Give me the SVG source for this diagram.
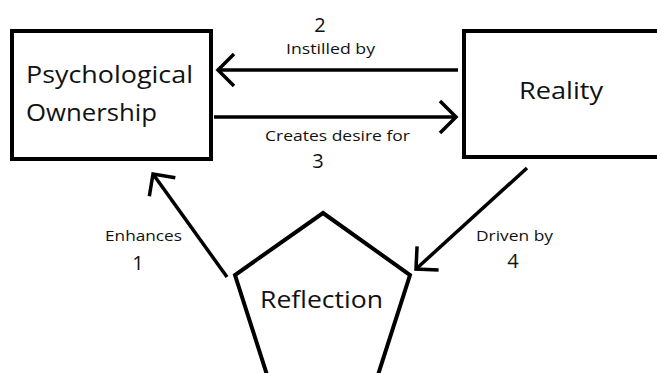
<svg xmlns="http://www.w3.org/2000/svg" width="657" height="373" viewBox="0 0 657 373">
  <style>
    .box { fill: #ffffff; stroke: #000000; stroke-width: 4; }
    .edge { fill: none; stroke: #000000; stroke-width: 3.5; }
    .big { font-family: "Open Sans", "Noto Sans", sans-serif; font-size: 23px; fill: #111111; }
    .small { font-family: "Open Sans", "Noto Sans", sans-serif; font-size: 15px; fill: #111111; }
    .num { font-family: "Open Sans", "Noto Sans", sans-serif; font-size: 20px; fill: #111111; text-anchor: middle; }
  </style>
  <defs>
    <marker id="chevron" markerUnits="userSpaceOnUse" markerWidth="40" markerHeight="40" refX="0" refY="0" viewBox="-20 -20 40 40" orient="auto" overflow="visible">
      <path d="M -16,-16 L 0,0 L -16,16" fill="none" stroke="#000000" stroke-width="3.5" stroke-linejoin="miter"/>
    </marker>
  </defs>
  <rect width="657" height="373" fill="#ffffff"/>

  <g id="psychological-ownership">
    <rect class="box" x="12" y="31" width="199" height="128"/>
    <text class="big" x="26" y="83" textLength="167" lengthAdjust="spacingAndGlyphs">Psychological</text>
    <text class="big" x="26" y="121" textLength="131" lengthAdjust="spacingAndGlyphs">Ownership</text>
  </g>

  <g id="reality">
    <rect class="box" x="464" y="31" width="240" height="126"/>
    <text class="big" x="519" y="99" textLength="84" lengthAdjust="spacingAndGlyphs">Reality</text>
  </g>

  <g id="reflection">
    <polygon class="box" points="323,213 410,275 377,378 268,378 235,275"/>
    <text class="big" x="260" y="308" textLength="123" lengthAdjust="spacingAndGlyphs">Reflection</text>
  </g>

  <g id="connectors">
    <line class="edge" x1="458" y1="70" x2="218" y2="70" marker-end="url(#chevron)"/>
    <line class="edge" x1="214" y1="117" x2="456" y2="117" marker-end="url(#chevron)"/>
    <line class="edge" x1="227" y1="277" x2="153" y2="174" marker-end="url(#chevron)"/>
    <line class="edge" x1="527" y1="168" x2="416" y2="269" marker-end="url(#chevron)"/>
  </g>

  <g id="labels">
    <text class="num" x="320" y="32">2</text>
    <text class="small" x="286" y="54" textLength="89" lengthAdjust="spacingAndGlyphs">Instilled by</text>
    <text class="small" x="265" y="141" textLength="145" lengthAdjust="spacingAndGlyphs">Creates desire for</text>
    <text class="num" x="318" y="168">3</text>
    <text class="small" x="105" y="241" textLength="77" lengthAdjust="spacingAndGlyphs">Enhances</text>
    <text class="num" x="138" y="270">1</text>
    <text class="small" x="476" y="241" textLength="77" lengthAdjust="spacingAndGlyphs">Driven by</text>
    <text class="num" x="513" y="268">4</text>
  </g>
</svg>
